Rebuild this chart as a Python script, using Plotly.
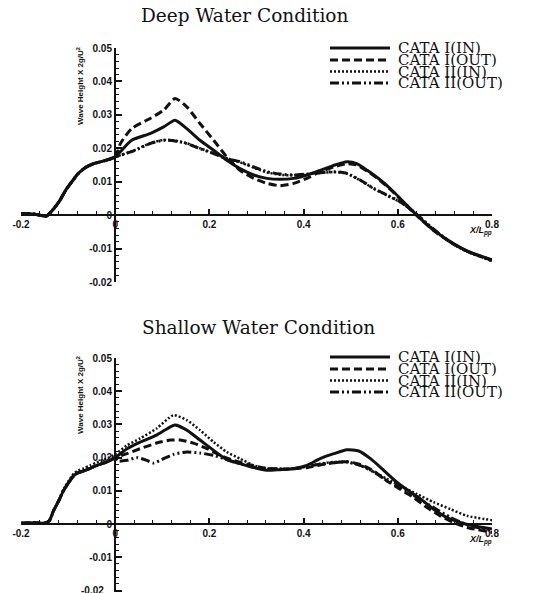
import plotly.graph_objects as go

W, H = 560, 593

# ---------------- data ----------------
x_ticks = [-0.2, 0, 0.2, 0.4, 0.6, 0.8]
x_tick_labels = ["-0.2", "0", "0.2", "0.4", "0.6", "0.8"]
y_ticks = [-0.02, -0.01, 0, 0.01, 0.02, 0.03, 0.04, 0.05]
y_tick_labels = ["-0.02", "-0.01", "0", "0.01", "0.02", "0.03", "0.04", "0.05"]

series_names = ["CATA I(IN)", "CATA I(OUT)", "CATA II(IN)", "CATA II(OUT)"]

# Deep water: common bow part
deep_pre_x = [-0.2, -0.17, -0.155, -0.145, -0.13, -0.117, -0.105, -0.092, -0.08, -0.071, -0.06, -0.046, -0.03, -0.015, 0]
deep_pre_y = [0.0005, 0.0003, -0.0002, -0.0002, 0.002, 0.0045, 0.0075, 0.010, 0.0122, 0.0134, 0.0145, 0.0154, 0.016, 0.0166, 0.0174]

deep_1in_x = [0.011, 0.035, 0.074, 0.103, 0.127, 0.152, 0.18, 0.209, 0.237, 0.265, 0.294, 0.322, 0.35, 0.379, 0.407, 0.435, 0.464, 0.492, 0.513, 0.535, 0.563, 0.591, 0.619, 0.644, 0.676, 0.712, 0.747, 0.8]
deep_1in_y = [0.019, 0.0224, 0.0244, 0.0264, 0.0284, 0.0259, 0.0224, 0.0194, 0.0164, 0.0139, 0.012, 0.011, 0.0107, 0.011, 0.012, 0.0134, 0.0149, 0.016, 0.0154, 0.0134, 0.0105, 0.007, 0.003, -0.0005, -0.0045, -0.008, -0.0107, -0.0134]

deep_1out_x = [0.011, 0.035, 0.074, 0.103, 0.127, 0.152, 0.18, 0.209, 0.237, 0.265, 0.294, 0.322, 0.35, 0.379, 0.407, 0.435, 0.464, 0.492, 0.513, 0.535, 0.563, 0.591, 0.619, 0.644, 0.676, 0.712, 0.747, 0.8]
deep_1out_y = [0.0214, 0.0259, 0.0289, 0.0314, 0.0349, 0.0324, 0.0274, 0.0224, 0.0174, 0.0134, 0.011, 0.0095, 0.0088, 0.0095, 0.011, 0.013, 0.0144, 0.0154, 0.015, 0.0132, 0.0103, 0.0068, 0.0028, -0.0006, -0.0046, -0.0081, -0.0108, -0.0135]

deep_2in_x = [0.039, 0.074, 0.103, 0.127, 0.152, 0.18, 0.209, 0.237, 0.265, 0.294, 0.322, 0.35, 0.379, 0.407, 0.435, 0.464, 0.492, 0.52, 0.549, 0.577, 0.605, 0.634, 0.662, 0.69, 0.72, 0.75, 0.8]
deep_2in_y = [0.0193, 0.0215, 0.0225, 0.0223, 0.0215, 0.02, 0.0185, 0.017, 0.0158, 0.0142, 0.0128, 0.0121, 0.0119, 0.0122, 0.0126, 0.0129, 0.0124, 0.0104, 0.0079, 0.0059, 0.0039, 0.0009, -0.0026, -0.0059, -0.0089, -0.0111, -0.0137]

deep_2out_x = [0.039, 0.074, 0.103, 0.127, 0.152, 0.18, 0.209, 0.237, 0.265, 0.294, 0.322, 0.35, 0.379, 0.407, 0.435, 0.464, 0.492, 0.52, 0.549, 0.577, 0.605, 0.634, 0.662, 0.69, 0.72, 0.75, 0.8]
deep_2out_y = [0.0192, 0.0214, 0.0224, 0.0222, 0.0214, 0.0199, 0.0184, 0.0169, 0.016, 0.0144, 0.013, 0.0123, 0.012, 0.0123, 0.0127, 0.013, 0.0125, 0.0105, 0.008, 0.006, 0.004, 0.001, -0.0025, -0.0058, -0.0088, -0.011, -0.0136]

# Shallow water
sh_pre_x = [-0.2, -0.17, -0.15, -0.14, -0.131, -0.12, -0.11, -0.099, -0.088, -0.078, -0.067, -0.053, -0.039, -0.018, 0]
sh_pre_y = [0.0003, 0.0004, 0.0003, 0.001, 0.004, 0.007, 0.010, 0.0125, 0.0146, 0.0155, 0.016, 0.0168, 0.0177, 0.0187, 0.0200]
sh_pre_dot_y = [0.0003, 0.0004, 0.0003, 0.001, 0.004, 0.0072, 0.0104, 0.013, 0.0152, 0.0162, 0.0168, 0.0177, 0.0186, 0.0197, 0.021]

sh_1in_x = [0.025, 0.053, 0.088, 0.117, 0.127, 0.152, 0.18, 0.209, 0.237, 0.265, 0.294, 0.322, 0.35, 0.379, 0.407, 0.435, 0.464, 0.492, 0.517, 0.542, 0.57, 0.598, 0.627, 0.648, 0.676, 0.704, 0.733, 0.761, 0.8]
sh_1in_y = [0.0227, 0.0247, 0.0268, 0.0293, 0.0298, 0.0283, 0.0253, 0.0222, 0.0194, 0.0182, 0.017, 0.0162, 0.0164, 0.0167, 0.0177, 0.0197, 0.0212, 0.0224, 0.022, 0.0197, 0.0162, 0.0126, 0.0096, 0.0076, 0.0045, 0.002, 0.0005, -0.0005, -0.0015]

sh_1out_x = [0.025, 0.053, 0.088, 0.117, 0.138, 0.166, 0.195, 0.223, 0.251, 0.28, 0.322, 0.35, 0.379, 0.407, 0.435, 0.464, 0.492, 0.52, 0.549, 0.577, 0.605, 0.634, 0.662, 0.69, 0.718, 0.747, 0.8]
sh_1out_y = [0.0212, 0.0227, 0.0244, 0.0253, 0.0253, 0.0244, 0.0227, 0.0207, 0.0192, 0.018, 0.0168, 0.0165, 0.0167, 0.017, 0.0178, 0.0185, 0.0188, 0.018, 0.016, 0.013, 0.0105, 0.008, 0.005, 0.0025, 0.0005, -0.001, -0.0025]

sh_2in_x = [0.025, 0.053, 0.088, 0.124, 0.152, 0.18, 0.209, 0.237, 0.265, 0.294, 0.322, 0.35, 0.379, 0.407, 0.435, 0.464, 0.492, 0.52, 0.549, 0.577, 0.605, 0.64, 0.676, 0.712, 0.747, 0.8]
sh_2in_y = [0.0237, 0.0258, 0.0288, 0.0328, 0.0313, 0.0283, 0.0247, 0.0217, 0.0197, 0.0177, 0.0167, 0.0167, 0.0167, 0.0174, 0.0182, 0.0187, 0.0187, 0.0177, 0.0157, 0.0136, 0.0116, 0.0091, 0.0066, 0.0045, 0.0025, 0.0012]

sh_2out_x = [0.005, 0.025, 0.046, 0.067, 0.081, 0.103, 0.124, 0.152, 0.18, 0.209, 0.237, 0.265, 0.294, 0.322, 0.35, 0.379, 0.407, 0.435, 0.464, 0.492, 0.52, 0.549, 0.577, 0.605, 0.64, 0.676, 0.712, 0.747, 0.8]
sh_2out_y = [0.019, 0.0192, 0.02, 0.0192, 0.0184, 0.0197, 0.021, 0.0217, 0.0214, 0.0207, 0.0194, 0.0182, 0.0172, 0.0167, 0.0166, 0.0167, 0.0174, 0.018, 0.0185, 0.0187, 0.0177, 0.0157, 0.0131, 0.0111, 0.0081, 0.005, 0.002, -0.0002, -0.002]

# ---------------- styles ----------------
dashes = ["solid", "8px,4px", "2px,2px", "9px,3px,2px,3px,2px,3px"]
widths = [3, 3, 2.5, 3]
INK = "#111111"

def px(x):
    return x / W

def py(y):
    return 1 - y / H

fig = go.Figure()

deep = [(deep_1in_x, deep_1in_y, deep_pre_y), (deep_1out_x, deep_1out_y, deep_pre_y),
        (deep_2in_x, deep_2in_y, deep_pre_y), (deep_2out_x, deep_2out_y, deep_pre_y)]
shallow = [(sh_1in_x, sh_1in_y, sh_pre_y), (sh_1out_x, sh_1out_y, sh_pre_y),
           (sh_2in_x, sh_2in_y, sh_pre_dot_y), (sh_2out_x, sh_2out_y, sh_pre_y)]

draw_order = [2, 3, 1, 0]
for i in draw_order:
    xs, ys, pre = deep[i]
    fig.add_trace(go.Scatter(x=deep_pre_x + xs, y=pre + ys, mode="lines", name=series_names[i],
                             line=dict(color=INK, width=widths[i], dash=dashes[i], shape="spline", smoothing=0.6),
                             xaxis="x", yaxis="y", showlegend=False))
for i in draw_order:
    xs, ys, pre = shallow[i]
    fig.add_trace(go.Scatter(x=sh_pre_x + xs, y=pre + ys, mode="lines", name=series_names[i],
                             line=dict(color=INK, width=widths[i], dash=dashes[i], shape="spline", smoothing=0.6),
                             xaxis="x2", yaxis="y2", showlegend=False))

# geometry (pixels)
x_left, x_right = 21, 492          # x = -0.2 .. 0.8
x_zero_px = 115
top_y05, top_ym02 = 48, 282        # y = 0.05 .. -0.02
bot_y05, bot_ym02 = 358, 591
top_zero_px = 215
bot_zero_px = 524
bot_min = -0.0205
bot_min_px = bot_zero_px + (bot_ym02 - bot_y05) / 0.07 * (-bot_min)

tickfont = dict(family="Liberation Sans, Arial, sans-serif", size=10, color=INK)

def xaxis_cfg(pos):
    return dict(domain=[px(x_left), px(x_right)], range=[-0.2, 0.8], anchor="free", position=pos,
                automargin=False,
                showline=True, linewidth=2, linecolor=INK, showgrid=False, zeroline=False,
                ticks="inside", ticklen=5, tickwidth=1.5, tickcolor=INK,
                tickvals=x_ticks, ticktext=[f"<b>{t}</b>" for t in x_tick_labels], tickfont=tickfont,
                minor=dict(dtick=0.04, tick0=0, ticks="inside", ticklen=3, tickwidth=1, tickcolor=INK),
                fixedrange=True)

def yaxis_cfg(d0, d1, ymin):
    return dict(domain=[d0, d1], range=[ymin, 0.05], anchor="free", position=px(x_zero_px),
                automargin=False,
                showline=True, linewidth=2, linecolor=INK, showgrid=False, zeroline=False,
                ticks="inside", ticklen=6, tickwidth=1.5, tickcolor=INK,
                tickvals=y_ticks, ticktext=[f"<b>{t}</b>" for t in y_tick_labels], tickfont=tickfont,
                minor=dict(dtick=0.002, tick0=0, ticks="inside", ticklen=3, tickwidth=1, tickcolor=INK),
                fixedrange=True)

fig.update_layout(
    width=W, height=H, margin=dict(l=0, r=0, t=0, b=0, autoexpand=False),
    paper_bgcolor="white", plot_bgcolor="white",
    xaxis=xaxis_cfg(py(top_zero_px)),
    yaxis=yaxis_cfg(py(top_ym02), py(top_y05), -0.02),
    xaxis2=xaxis_cfg(py(bot_zero_px)),
    yaxis2=yaxis_cfg(py(bot_min_px), py(bot_y05), bot_min),
    showlegend=False,
)

serif = "DejaVu Serif, Liberation Serif, serif"
sans = "Liberation Sans, Arial, sans-serif"
ann = []
shapes = []

def text(t, x, y, size, family, **kw):
    d = dict(text=t, x=px(x), y=py(y), xref="paper", yref="paper", showarrow=False,
             xanchor="center", yanchor="middle", font=dict(family=family, size=size, color=INK))
    d.update(kw)
    ann.append(d)

# titles
text("Deep Water Condition", 244, 16, 18.5, serif)
text("Shallow Water Condition", 258, 327, 18.5, serif)
# axis titles
text("<b>Wave Height X 2g/U<sup>2</sup></b>", 80, 86, 8, sans, textangle=-90)
text("<b>Wave Height X 2g/U<sup>2</sup></b>", 80, 395, 8, sans, textangle=-90)
text("<b><i>X/L<sub>pp</sub></i></b>", 481, 231, 9, sans)
text("<b><i>X/L<sub>pp</sub></i></b>", 480, 540, 9, sans)
# lowest tick label of the lower panel (plotly culls it at the page edge; the reference shows it clipped)
ann.append(dict(text=f"<b>{y_tick_labels[0]}</b>", x=-0.02, y=y_ticks[0], xref="x2", yref="y2",
                xanchor="right", yanchor="middle", showarrow=False, font=tickfont))

# legends
for rows in ([48, 60, 71.5, 83], [357, 369, 380.5, 392]):
    for i, ry in enumerate(rows):
        shapes.append(dict(type="line", xref="paper", yref="paper", x0=px(330), x1=px(390),
                           y0=py(ry), y1=py(ry), line=dict(color=INK, width=widths[i], dash=dashes[i])))
        text(series_names[i], 396, ry, 15, serif, xanchor="left")

fig.update_layout(annotations=ann, shapes=shapes)
fig.write_html("out.html")
